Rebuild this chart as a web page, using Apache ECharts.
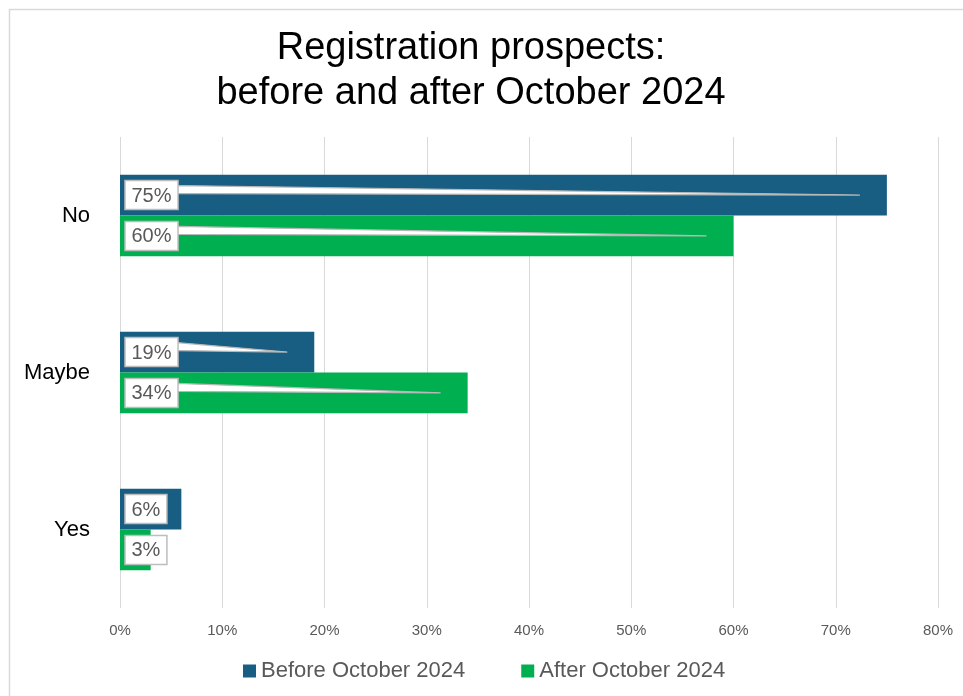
<!DOCTYPE html>
<html>
<head>
<meta charset="utf-8">
<script src="https://cdn.jsdelivr.net/npm/echarts@6/dist/echarts.min.js"></script>
<style>
  html, body { margin: 0; padding: 0; background: #ffffff; }
  #chart { width: 963px; height: 696px; }
</style>
</head>
<body>
<div id="chart"></div>
<script>
// Survey answers and the share of respondents giving each answer (%)
const categories = ['No', 'Maybe', 'Yes'];
const beforeValues = [75, 19, 6];
const afterValues = [60, 34, 3];
const seriesNames = ['Before October 2024', 'After October 2024'];
const axisTicks = [0, 10, 20, 30, 40, 50, 60, 70, 80];

const COLORS = ['#185E82', '#00B050'];
const LABEL_FONT = '20px "Liberation Sans", Arial, sans-serif';
const CATEGORY_GAP = 0.48;

// Text measuring for the callout boxes
const measureCtx = document.createElement('canvas').getContext('2d');
function textWidth(str) {
  measureCtx.font = LABEL_FONT;
  return measureCtx.measureText(str).width;
}

// Callout rows: [value, category index, series index]
const calloutData = [];
[beforeValues, afterValues].forEach(function (vals, s) {
  vals.forEach(function (v, i) { calloutData.push([v, i, s]); });
});

function renderCallout(params, api) {
  const value = api.value(0);
  const cat = api.value(1);
  const s = api.value(2);
  const end = api.coord([value, cat]);
  const start = api.coord([0, cat]);
  const band = api.size([0, 1])[1];
  const barH = band * (1 - CATEGORY_GAP) / 2;
  const barCenter = end[1] - barH + barH * s + barH / 2;

  const text = value + '%';
  const boxH = 29;
  const boxW = textWidth(text) + 13;
  const boxX = start[0] + 5;
  const boxY = barCenter - boxH / 2;
  const tipX = end[0] - 27;

  const children = [];
  if (tipX > boxX + boxW + 4) {
    children.push({
      type: 'polygon',
      shape: { points: [
        [boxX + boxW - 1, boxY + 5],
        [tipX, barCenter],
        [boxX + boxW - 1, boxY + 13]
      ] },
      style: { fill: '#ffffff', stroke: '#b8b8b8', lineWidth: 1.2 }
    });
  }
  children.push({
    type: 'rect',
    shape: { x: boxX, y: boxY, width: boxW, height: boxH },
    style: { fill: '#ffffff', stroke: '#bdbdbd', lineWidth: 1.5 }
  });
  children.push({
    type: 'text',
    style: {
      text: text,
      x: boxX + boxW / 2,
      y: barCenter + 1,
      align: 'center',
      verticalAlign: 'middle',
      font: LABEL_FONT,
      fill: '#595959'
    }
  });
  return { type: 'group', children: children };
}

const chart = echarts.init(document.getElementById('chart'), null, { renderer: 'canvas' });

chart.setOption({
  animation: false,
  backgroundColor: '#ffffff',
  graphic: [{
    type: 'rect',
    silent: true,
    z: -10,
    shape: { x: 9.5, y: 9.5, width: 1200, height: 1200 },
    style: { fill: 'none', stroke: '#d9d9d9', lineWidth: 1.5 }
  }],
  title: {
    text: 'Registration prospects:\nbefore and after October 2024',
    left: 466,
    textAlign: 'center',
    top: 21,
    textStyle: {
      fontFamily: '"Liberation Sans", Arial, sans-serif',
      fontSize: 38,
      fontWeight: 'normal',
      color: '#000000',
      lineHeight: 45
    }
  },
  legend: {
    data: seriesNames,
    left: 238,
    top: 655,
    icon: 'rect',
    itemWidth: 13,
    itemHeight: 13,
    itemGap: 56,
    textStyle: {
      fontFamily: '"Liberation Sans", Arial, sans-serif',
      fontSize: 22,
      color: '#595959'
    }
  },
  grid: { left: 120, right: 25, top: 137, bottom: 88, containLabel: false },
  xAxis: {
    type: 'value',
    min: axisTicks[0],
    max: axisTicks[axisTicks.length - 1],
    interval: axisTicks[1] - axisTicks[0],
    axisLine: { show: false },
    axisTick: { show: false },
    splitLine: { lineStyle: { color: '#d9d9d9', width: 1 } },
    axisLabel: {
      formatter: '{value}%',
      margin: 15,
      fontFamily: '"Liberation Sans", Arial, sans-serif',
      fontSize: 15,
      color: '#595959'
    }
  },
  yAxis: {
    type: 'category',
    data: categories,
    inverse: true,
    axisLine: { show: false },
    axisTick: { show: false },
    axisLabel: {
      margin: 30,
      fontFamily: '"Liberation Sans", Arial, sans-serif',
      fontSize: 22,
      color: '#000000'
    }
  },
  series: [
    {
      name: seriesNames[0],
      type: 'bar',
      data: beforeValues,
      barGap: '0%',
      barCategoryGap: (CATEGORY_GAP * 100) + '%',
      itemStyle: { color: COLORS[0] },
      z: 2
    },
    {
      name: seriesNames[1],
      type: 'bar',
      data: afterValues,
      barGap: '0%',
      barCategoryGap: (CATEGORY_GAP * 100) + '%',
      itemStyle: { color: COLORS[1] },
      z: 2
    },
    {
      name: 'callouts',
      type: 'custom',
      data: calloutData,
      encode: { x: 0, y: 1 },
      renderItem: renderCallout,
      clip: false,
      silent: true,
      z: 5
    }
  ]
});
</script>
</body>
</html>
